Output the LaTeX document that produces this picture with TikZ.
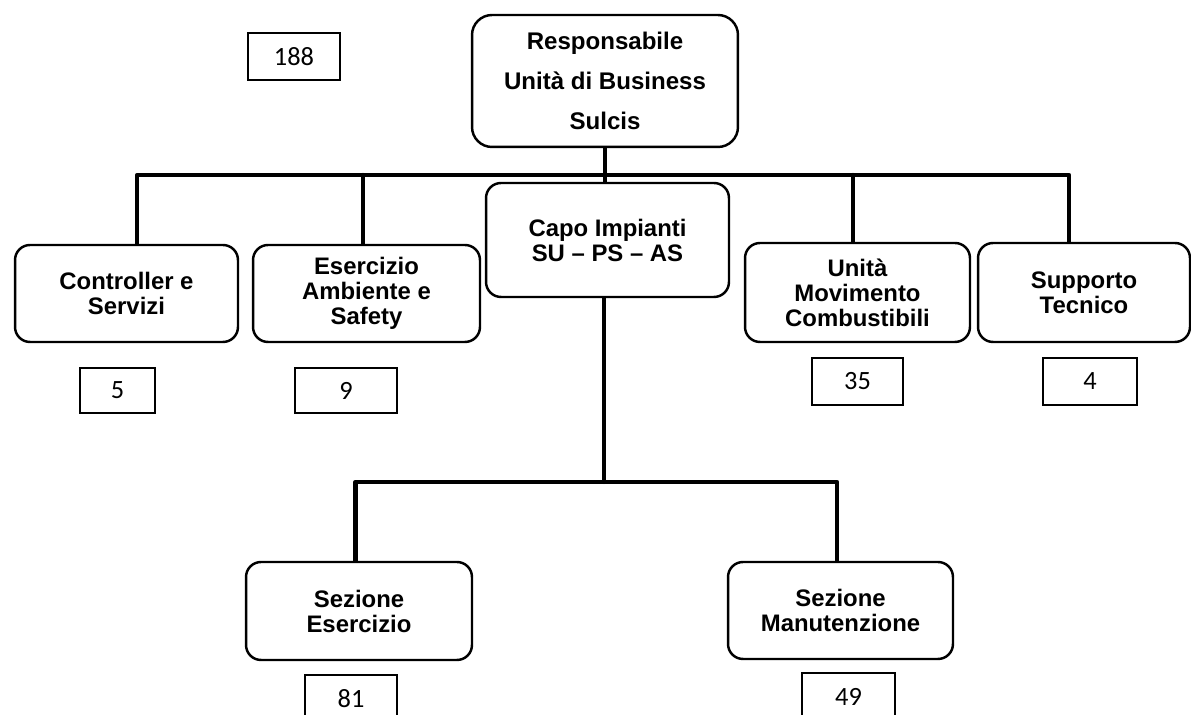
\documentclass[tikz,border=0pt]{standalone}
\usepackage{fontspec}
\setmainfont{Liberation Sans}
\newfontfamily\numfont{Carlito}
\usepackage{tikz}
\usetikzlibrary{positioning}
\tikzset{unitbox/.style={draw, line width=1.4pt, rounded corners=.3cm, align=center, inner sep=0pt,
    font=\bfseries\fontsize{13.6}{14.2}\selectfont},
  countbox/.style={draw, line width=1.1pt, inner sep=0pt, minimum height=.93cm,
    font=\numfont\fontsize{15}{15}\selectfont},
  wire/.style={line width=2.4pt, line cap=round, line join=round}}

\begin{document}
\begin{tikzpicture}[x=0.02cm, y=-0.02cm]
      \useasboundingbox (0,0) rectangle (1191,715);
      \clip (0,0) rectangle (1191,715);
      \node[unitbox, rounded corners=.4cm, minimum width=5.32cm, minimum height=2.64cm,
        font=\bfseries\fontsize{13.7}{22.7}\selectfont] (resp) at (605,81) {Responsabile\\Unità di Business\\Sulcis};
      \node[unitbox, minimum width=4.46cm, minimum height=1.94cm] (ctrl) at (126.5,293.5) {Controller e\\Servizi};
      \node[unitbox, minimum width=4.54cm, minimum height=1.94cm] (eas) at (366.5,293.5) {Esercizio\\Ambiente e\\Safety};
      \node[unitbox, minimum width=4.86cm, minimum height=2.28cm] (capo) at (607.5,240) {Capo Impianti\\SU -- PS -- AS};
      \node[unitbox, minimum width=4.5cm, minimum height=1.98cm] (umc) at (857.5,292.5) {Unità\\Movimento\\Combustibili};
      \node[unitbox, minimum width=4.24cm, minimum height=1.98cm] (supp) at (1084,292.5) {Supporto\\Tecnico};
      \node[unitbox, minimum width=4.52cm, minimum height=1.96cm] (sezes) at (359,611) {Sezione\\Esercizio};
      \node[unitbox, minimum width=4.5cm, minimum height=1.94cm] (sezman) at (840.5,610.5) {Sezione\\Manutenzione};
      \node[countbox, minimum width=1.84cm] (ntot) at (294,56.5) {188};
      \node[countbox, minimum width=1.5cm, minimum height=.9cm] (nctrl) at (117.5,390.5) {5};
      \node[countbox, minimum width=2.04cm, minimum height=.9cm] (neas) at (346,390.5) {9};
      \node[countbox, minimum width=1.82cm] (numc) at (857.5,381.5) {35};
      \node[countbox, minimum width=1.88cm] (nsupp) at (1090,381.5) {4};
      \node[countbox, minimum width=1.84cm] (nsezes) at (351,698.5) {81};
      \node[countbox, minimum width=1.86cm] (nsezman) at (848.5,696.5) {49};
      \coordinate (bus) at (605,175);
      \coordinate (low) at (604,482);
      \draw[wire] (resp.south) -- (resp.south |- capo.north);
      \draw[wire] ([xshift=6pt]ctrl.north) |- (bus) -| ([xshift=-8.5pt]supp.north);
      \draw[wire] ([xshift=-2pt]eas.north) -- ([xshift=-2pt]eas.north |- bus);
      \draw[wire] ([xshift=-2.5pt]umc.north) -- ([xshift=-2.5pt]umc.north |- bus);
      \draw[wire] (capo.south -| low) -- (low);
      \draw[wire] ([xshift=-2pt]sezes.north) |- (low) -| ([xshift=-2pt]sezman.north);
    \end{tikzpicture}
\end{document}
